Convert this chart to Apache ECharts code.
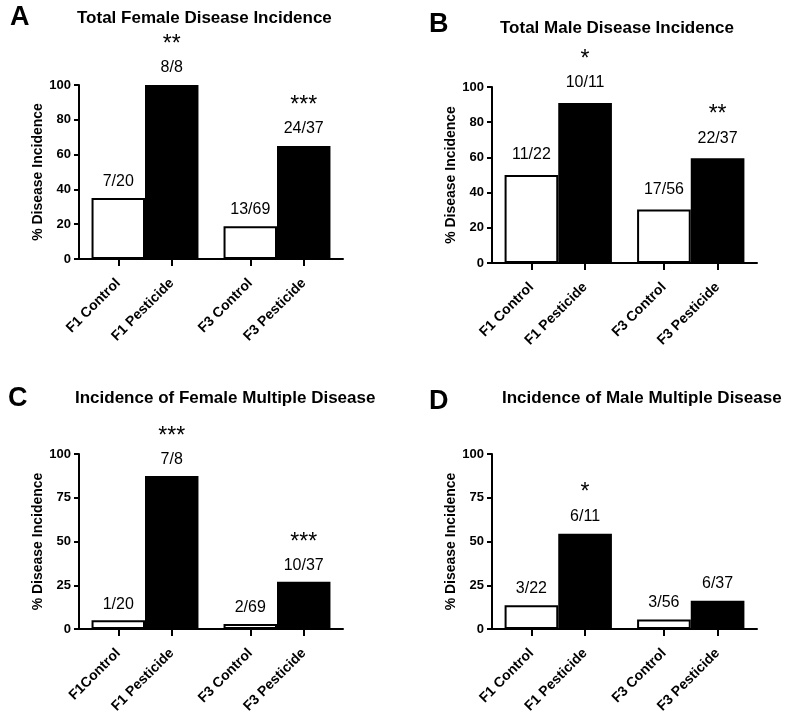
<!DOCTYPE html>
<html>
<head>
<meta charset="utf-8">
<script src="https://cdn.jsdelivr.net/npm/echarts@6/dist/echarts.min.js"></script>
<style>
  html, body { margin: 0; padding: 0; background: #fff; }
  #chart { width: 785px; height: 713px; }
</style>
</head>
<body>
<div id="chart"></div>
<script>
// panel letters and titles
const letters = ['A', 'B', 'C', 'D'];
const titles = [
    'Total Female Disease Incidence',
    'Total Male Disease Incidence',
    'Incidence of Female Multiple Disease',
    'Incidence of Male Multiple Disease'
];
// two generations per panel, control + pesticide bar in each
const generations = ['F1', 'F3'];
const barNamesA = ['F1 Control', 'F1 Pesticide', 'F3 Control', 'F3 Pesticide'];
const barNamesB = ['F1 Control', 'F1 Pesticide', 'F3 Control', 'F3 Pesticide'];
const barNamesC = ['F1Control', 'F1 Pesticide', 'F3 Control', 'F3 Pesticide'];
const barNamesD = ['F1 Control', 'F1 Pesticide', 'F3 Control', 'F3 Pesticide'];

// % disease incidence
const controlA = [35, 18.8];
const pesticideA = [100, 64.9];
const controlB = [50, 30.4];
const pesticideB = [90.9, 59.5];
const controlC = [5, 2.9];
const pesticideC = [87.5, 27.0];
const controlD = [13.6, 5.4];
const pesticideD = [54.5, 16.2];

// counts shown above bars
const controlCountsA = ['7/20', '13/69'];
const pesticideCountsA = ['8/8', '24/37'];
const controlCountsB = ['11/22', '17/56'];
const pesticideCountsB = ['10/11', '22/37'];
const controlCountsC = ['1/20', '2/69'];
const pesticideCountsC = ['7/8', '10/37'];
const controlCountsD = ['3/22', '3/56'];
const pesticideCountsD = ['6/11', '6/37'];

// significance marks over pesticide bars
const starsA = ['**', '***'];
const starsB = ['*', '**'];
const starsC = ['***', '***'];
const starsD = ['*', ''];

const yStep = [20, 20, 25, 25];

const panels = [
    { names: barNamesA, control: controlA, pest: pesticideA, cc: controlCountsA, pc: pesticideCountsA, stars: starsA },
    { names: barNamesB, control: controlB, pest: pesticideB, cc: controlCountsB, pc: pesticideCountsB, stars: starsB },
    { names: barNamesC, control: controlC, pest: pesticideC, cc: controlCountsC, pc: pesticideCountsC, stars: starsC },
    { names: barNamesD, control: controlD, pest: pesticideD, cc: controlCountsD, pc: pesticideCountsD, stars: starsD }
];

// layout
const grids = [
    { left: 79, width: 264, top: 85, height: 174 },
    { left: 492, width: 265, top: 87, height: 176 },
    { left: 79, width: 264, top: 454, height: 175 },
    { left: 492, width: 265, top: 454, height: 175 }
];
const letterPos = [[10, 4], [429, 11], [8, 385], [429, 388]];
const titlePos = [[77, 10], [500, 20], [75, 390], [502, 390]];
const labelDist = [8, 11, 7, 8];

const FONT = 'Liberation Sans, Arial, sans-serif';
const catGap = 0.19;
// centres of the bars in band units (used for ticks / names under bars)
const half = (1 - catGap) / 4;
const barCentres = [];
generations.forEach((g, i) => { barCentres.push(i + 0.5 - half, i + 0.5 + half); });

const chartDom = document.getElementById('chart');
const myChart = echarts.init(chartDom, null, { renderer: 'canvas' });

const title = [];
const grid = [];
const xAxis = [];
const yAxis = [];
const series = [];

const countRich = {
    s: { fontFamily: FONT, fontSize: 23, color: '#000', lineHeight: 29, align: 'center' },
    f: { fontFamily: FONT, fontSize: 16, color: '#000', lineHeight: 18, align: 'center' }
};

panels.forEach((p, k) => {
    title.push({
        text: letters[k], left: letterPos[k][0], top: letterPos[k][1],
        textStyle: { fontFamily: FONT, fontSize: 27, fontWeight: 'bold', color: '#000' }, padding: 0
    });
    title.push({
        text: titles[k], left: titlePos[k][0], top: titlePos[k][1],
        textStyle: { fontFamily: FONT, fontSize: 17, fontWeight: 'bold', color: '#000' }, padding: 0
    });
    // rotated names may run past the page bottom, as in the original
    grid.push(Object.assign({ containLabel: false, outerBoundsMode: 'none' }, grids[k]));

    // bar axis
    xAxis.push({
        type: 'category', gridIndex: k, data: generations,
        axisLine: { show: false }, axisTick: { show: false }, axisLabel: { show: false }
    });
    // visible axis with ticks under each bar
    xAxis.push({
        type: 'value', gridIndex: k, min: 0, max: generations.length, position: 'bottom',
        splitLine: { show: false },
        axisLine: { show: true, lineStyle: { color: '#000', width: 2 } },
        axisTick: { show: true, customValues: barCentres, length: 7, lineStyle: { color: '#000', width: 2 } },
        axisLabel: {
            show: true, customValues: barCentres, rotate: 45, margin: 22,
            fontFamily: FONT, fontSize: 14, fontWeight: 'bold', color: '#000',
            formatter: (v) => {
                let best = 0;
                barCentres.forEach((c, i) => { if (Math.abs(c - v) < Math.abs(barCentres[best] - v)) best = i; });
                return p.names[best];
            }
        }
    });
    yAxis.push({
        type: 'value', gridIndex: k, min: 0, max: 100, interval: yStep[k],
        name: '% Disease Incidence', nameLocation: 'middle', nameGap: 30,
        nameTextStyle: { fontFamily: FONT, fontSize: 14, fontWeight: 'bold', color: '#000' },
        splitLine: { show: false },
        axisLine: { show: true, lineStyle: { color: '#000', width: 2 } },
        axisTick: { show: true, length: 5, lineStyle: { color: '#000', width: 2 } },
        axisLabel: { margin: 8, fontFamily: FONT, fontSize: 13, fontWeight: 'bold', color: '#000' }
    });

    series.push({
        type: 'bar', xAxisIndex: 2 * k, yAxisIndex: k,
        barGap: '0%', barCategoryGap: (catGap * 100) + '%',
        data: p.control,
        itemStyle: { color: '#fff', borderColor: '#000', borderWidth: 2 },
        label: {
            show: true, position: 'top', distance: labelDist[k],
            formatter: (prm) => '{f|' + p.cc[prm.dataIndex] + '}', rich: countRich
        },
        silent: true
    });
    series.push({
        type: 'bar', xAxisIndex: 2 * k, yAxisIndex: k,
        barGap: '0%', barCategoryGap: (catGap * 100) + '%',
        data: p.pest,
        itemStyle: { color: '#000', borderColor: '#000', borderWidth: 2 },
        label: {
            show: true, position: 'top', distance: labelDist[k],
            formatter: (prm) => {
                const s = p.stars[prm.dataIndex];
                return (s ? '{s|' + s + '}\n' : '') + '{f|' + p.pc[prm.dataIndex] + '}';
            },
            rich: countRich
        },
        silent: true
    });
});

const option = {
    backgroundColor: '#fff',
    animation: false,
    title: title,
    grid: grid,
    xAxis: xAxis,
    yAxis: yAxis,
    series: series
};
option && myChart.setOption(option);
</script>
</body>
</html>
